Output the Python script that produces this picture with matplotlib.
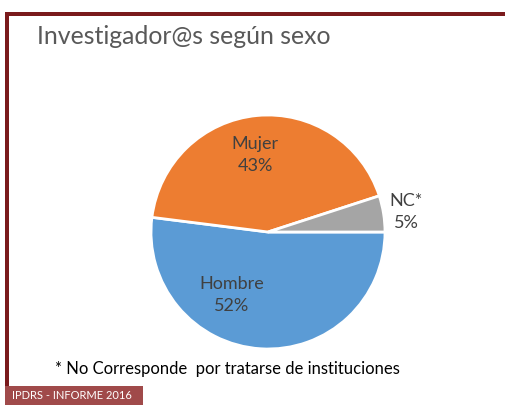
import matplotlib
matplotlib.use("Agg")
import matplotlib.pyplot as plt
from matplotlib.patches import Rectangle

# datos
categorias = ["Hombre", "Mujer", "NC*"]
porcentajes = [52, 43, 5]
colores = ["#5B9BD5", "#ED7D31", "#A5A5A5"]
titulo = "Investigador@s según sexo"
nota = "* No Corresponde  por tratarse de instituciones"
pie_pagina = "IPDRS - INFORME 2016"

# posiciones de las etiquetas (coordenadas del eje del pastel)
pos_etiquetas = [(-0.31, -0.54), (-0.11, 0.66), (1.18, 0.17)]

plt.rcParams["font.family"] = ["Lato", "DejaVu Sans"]
gris = "#404040"

fig = plt.figure(figsize=(5.05, 4.05), dpi=100)
W, H = 505, 405

# marco rojo oscuro
marco = "#7A1A1C"
fig.add_artist(Rectangle((5 / W, 0), 3.5 / W, (H - 12) / H, transform=fig.transFigure,
                         color=marco, lw=0))
fig.add_artist(Rectangle((5 / W, (H - 15.5) / H), (W - 5) / W, 3.5 / H,
                         transform=fig.transFigure, color=marco, lw=0))

fig.text(37 / W, 1 - 37 / H, titulo, fontsize=17.9, color="#595959", va="center", ha="left")

# pastel
cx, cy, r = 268, 232, 117
ax = fig.add_axes([(cx - r) / W, 1 - (cy + r) / H, 2 * r / W, 2 * r / H])
ax.pie(porcentajes, colors=colores, startangle=0, counterclock=False,
       wedgeprops=dict(edgecolor="white", linewidth=2))
ax.set_xlim(-1, 1)
ax.set_ylim(-1, 1)
ax.set_aspect("equal")
ax.axis("off")

for nombre, p, (x, y) in zip(categorias, porcentajes, pos_etiquetas):
    ax.text(x, y, "%s\n%d%%" % (nombre, p), ha="center", va="center", fontsize=13,
            color=gris, linespacing=1.45, clip_on=False)

fig.text(55 / W, 1 - 369 / H, nota, fontsize=12, color="black", va="center", ha="left")

# pie de pagina
fig.add_artist(Rectangle((5 / W, 0), 138 / W, 19 / H, transform=fig.transFigure,
                         color="#A04A4A", lw=0))
fig.text(12 / W, 9.5 / H, pie_pagina, fontsize=8, color="white", va="center", ha="left")

fig.savefig("out.png", dpi=100)
